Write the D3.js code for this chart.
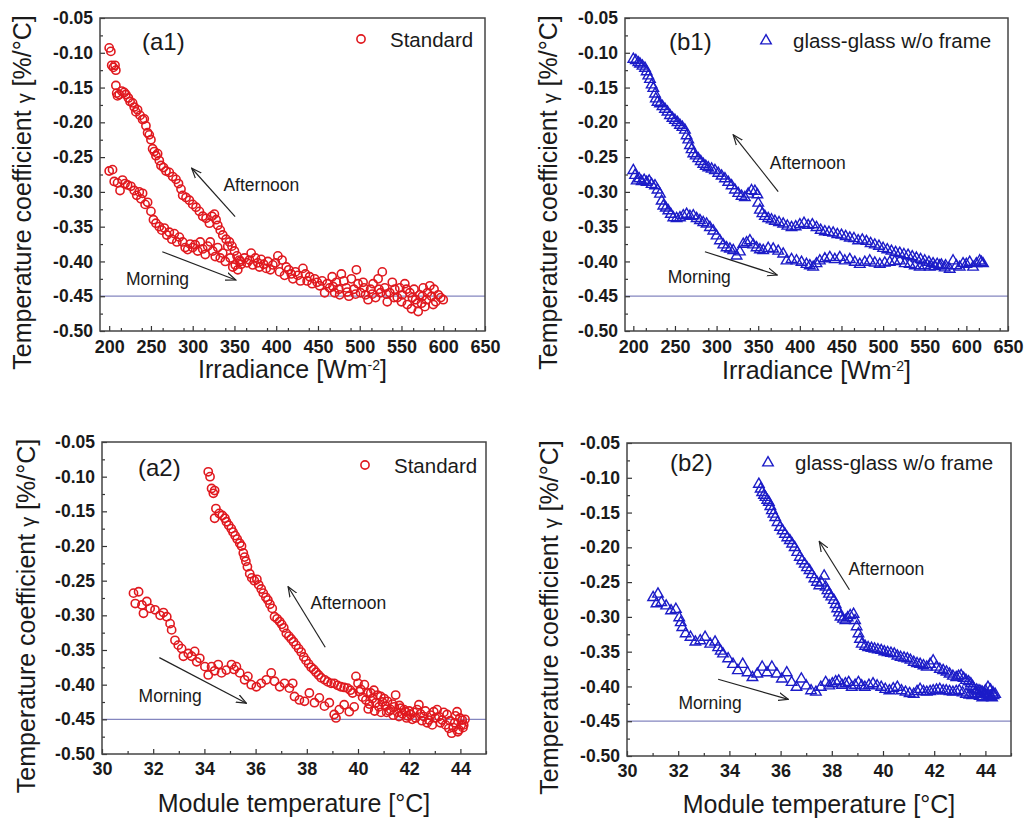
<!DOCTYPE html>
<html>
<head>
<meta charset="utf-8">
<script src="https://cdn.jsdelivr.net/npm/d3@7"></script>
<style>
  body { margin: 0; background: #fff; }
  svg { font-family: "Liberation Sans", Arial, sans-serif; }
</style>
</head>
<body>
<svg id="chart" width="1027" height="819"></svg>
<script>
// tick labels
const gammaTicks = [-0.50, -0.45, -0.40, -0.35, -0.30, -0.25, -0.20, -0.15, -0.10, -0.05];
const irradianceTicks = [200, 250, 300, 350, 400, 450, 500, 550, 600, 650];
const tempTicks = [30, 32, 34, 36, 38, 40, 42, 44];
const refGamma = -0.45;

// (a1) standard module, gamma vs irradiance [irradiance, gamma]
const a1Morning = [[200,-0.270],[204,-0.268],[206,-0.285],[210,-0.287],[213,-0.298],[216,-0.283],[219,-0.288],[222,-0.290],
  [226,-0.292],[230,-0.298],[233,-0.305],[236,-0.300],[238,-0.310],[240,-0.302],[243,-0.318],[246,-0.315],[250,-0.328],
  [253,-0.340],[256,-0.345],[260,-0.350],[263,-0.355],[266,-0.352],[269,-0.362],[272,-0.358],[275,-0.368],[278,-0.360],
  [281,-0.372],[284,-0.365],[288,-0.372],[291,-0.380],[294,-0.383],[297,-0.375],[300,-0.380],[303,-0.376],[306,-0.385],
  [309,-0.372],[312,-0.382],[315,-0.390],[318,-0.378],[321,-0.372],[324,-0.385],[327,-0.393],[330,-0.380],[333,-0.395],
  [336,-0.388],[339,-0.400],[342,-0.378],[345,-0.395],[348,-0.408],[351,-0.405],[354,-0.412],[357,-0.400]];
const a1Afternoon = [[200,-0.093],[202,-0.098],[203,-0.118],[205,-0.121],[207,-0.118],[208,-0.125],[208,-0.147],[209,-0.158],
  [210,-0.162],[212,-0.160],[215,-0.155],[218,-0.157],[220,-0.160],[223,-0.165],[225,-0.170],[228,-0.172],[230,-0.178],
  [232,-0.185],[234,-0.182],[237,-0.190],[240,-0.196],[242,-0.195],[244,-0.205],[246,-0.215],[248,-0.218],[250,-0.225],
  [252,-0.238],[254,-0.242],[256,-0.248],[258,-0.245],[260,-0.255],[262,-0.262],[265,-0.265],[268,-0.270],[272,-0.272],
  [276,-0.278],[280,-0.282],[283,-0.288],[286,-0.296],[288,-0.305],[292,-0.308],[296,-0.312],[300,-0.318],[304,-0.322],
  [308,-0.328],[312,-0.335],[316,-0.338],[320,-0.345],[323,-0.335],[326,-0.332],[328,-0.340],[330,-0.348],[333,-0.355],
  [336,-0.362],[340,-0.368],[344,-0.372],[347,-0.378],[350,-0.385],[353,-0.392],[356,-0.398],[358,-0.404]];
const a1Noon = [[362,-0.395],[365,-0.402],[368,-0.398],[370,-0.388],[372,-0.405],[375,-0.395],[378,-0.402],[380,-0.408],
  [382,-0.397],[385,-0.404],[388,-0.410],[390,-0.400],[393,-0.412],[396,-0.405],[399,-0.402],[402,-0.392],[404,-0.415],
  [407,-0.398],[410,-0.420],[412,-0.408],[415,-0.412],[418,-0.418],[420,-0.425],[423,-0.415],[426,-0.420],[429,-0.428],
  [432,-0.410],[435,-0.418],[437,-0.428],[440,-0.422],[443,-0.432],[446,-0.425],[449,-0.430],[452,-0.435],[455,-0.428],
  [458,-0.445],[461,-0.432],[464,-0.438],[467,-0.422],[470,-0.445],[472,-0.430],[475,-0.440],[478,-0.418],[481,-0.428],
  [484,-0.438],[487,-0.450],[490,-0.425],[493,-0.440],[496,-0.412],[498,-0.432],[501,-0.445],[504,-0.430],[507,-0.448],
  [510,-0.455],[513,-0.440],[516,-0.432],[519,-0.452],[522,-0.425],[525,-0.445],[527,-0.415],[530,-0.438],[533,-0.458],
  [536,-0.445],[539,-0.430],[542,-0.440],[545,-0.452],[548,-0.438],[551,-0.448],[554,-0.432],[557,-0.462],[560,-0.445],
  [562,-0.468],[565,-0.440],[567,-0.455],[570,-0.472],[572,-0.448],[574,-0.460],[576,-0.438],[578,-0.465],[581,-0.445],
  [584,-0.435],[586,-0.450],[589,-0.440],[591,-0.458],[594,-0.448],[597,-0.452],[600,-0.455],
  [468,-0.436],[476,-0.448],[485,-0.444],[495,-0.447],[505,-0.438],[515,-0.447],[523,-0.440],[532,-0.447],[541,-0.452],
  [550,-0.458],[556,-0.440],[563,-0.452],[569,-0.460],[575,-0.450],[580,-0.455],[588,-0.462]];

// (b1) glass-glass w/o frame, gamma vs irradiance
const b1Morning = [[200,-0.268],[202,-0.275],[204,-0.283],[207,-0.280],[210,-0.284],[213,-0.282],[216,-0.285],[219,-0.283],
  [222,-0.288],[226,-0.290],[229,-0.296],[232,-0.302],[234,-0.312],[236,-0.319],[239,-0.322],[242,-0.326],[245,-0.331],
  [248,-0.336],[252,-0.337],[256,-0.336],[260,-0.333],[264,-0.331],[268,-0.334],[272,-0.333],[276,-0.337],[280,-0.340],
  [284,-0.343],[288,-0.345],[292,-0.350],[296,-0.355],[300,-0.362],[304,-0.369],[308,-0.375],[312,-0.379],[316,-0.381],
  [320,-0.383],[324,-0.391],[328,-0.385],[332,-0.374],[336,-0.372],[340,-0.369],[344,-0.375],[348,-0.379],[352,-0.382],
  [356,-0.383],[362,-0.380],[368,-0.381],[374,-0.384],[380,-0.388],[384,-0.398],[390,-0.396],[396,-0.398],[402,-0.400],
  [408,-0.403],[412,-0.405],[416,-0.407],[420,-0.402],[424,-0.398],[430,-0.395],[436,-0.393],[442,-0.396],[448,-0.393],
  [454,-0.398],[460,-0.396],[466,-0.400],[472,-0.403],[478,-0.400],[484,-0.398],[490,-0.401],[496,-0.403],[502,-0.401],
  [508,-0.400],[514,-0.399],[520,-0.398],[526,-0.402],[532,-0.403],[538,-0.405],[544,-0.407],[550,-0.405],[556,-0.407],
  [562,-0.406],[568,-0.405],[574,-0.408],[580,-0.410],[584,-0.398],[588,-0.405],[592,-0.407],[596,-0.402],[600,-0.403],
  [604,-0.400],[608,-0.407],[612,-0.402],[616,-0.398],[618,-0.400],[620,-0.402]];
const b1Afternoon = [[200,-0.108],[203,-0.110],[206,-0.113],[208,-0.115],[211,-0.118],[214,-0.121],[216,-0.126],[218,-0.132],
  [220,-0.137],[222,-0.145],[224,-0.150],[226,-0.158],[227,-0.165],[229,-0.170],[232,-0.172],[235,-0.176],[238,-0.180],
  [241,-0.184],[244,-0.189],[247,-0.193],[250,-0.196],[253,-0.199],[256,-0.203],[259,-0.206],[262,-0.210],[264,-0.218],
  [266,-0.224],[268,-0.232],[270,-0.238],[272,-0.244],[275,-0.247],[278,-0.251],[281,-0.255],[284,-0.259],[287,-0.262],
  [290,-0.264],[294,-0.266],[298,-0.268],[302,-0.272],[306,-0.276],[310,-0.280],[314,-0.285],[318,-0.290],[322,-0.296],
  [326,-0.301],[330,-0.305],[334,-0.307],[338,-0.302],[342,-0.297],[346,-0.298],[349,-0.303],[350,-0.315],[352,-0.325],
  [355,-0.330],[358,-0.334],[362,-0.337],[366,-0.339],[370,-0.341],[375,-0.343],[380,-0.345],[385,-0.348],[390,-0.350],
  [395,-0.349],[400,-0.346],[405,-0.344],[410,-0.347],[415,-0.346],[420,-0.350],[425,-0.354],[430,-0.356],[435,-0.357],
  [440,-0.358],[445,-0.360],[450,-0.361],[455,-0.363],[460,-0.365],[465,-0.366],[470,-0.369],[475,-0.368],[480,-0.370],
  [485,-0.373],[490,-0.375],[495,-0.377],[500,-0.380],[505,-0.382],[510,-0.384],[515,-0.386],[520,-0.387],[525,-0.389],
  [530,-0.390],[535,-0.392],[540,-0.394],[545,-0.396],[550,-0.398],[555,-0.400],[560,-0.402],[565,-0.403],[570,-0.404],
  [575,-0.405]];

// (a2) standard module, gamma vs module temperature [degC, gamma]
const a2Morning = [[31.23,-0.268],[31.43,-0.266],[31.30,-0.283],[31.56,-0.285],[31.62,-0.297],[31.75,-0.280],[31.88,-0.290],
  [32.07,-0.292],[32.27,-0.300],[32.40,-0.296],[32.53,-0.302],[32.66,-0.312],[32.72,-0.321],[32.85,-0.336],[32.98,-0.343],
  [33.11,-0.348],[33.18,-0.359],[33.37,-0.355],[33.50,-0.359],[33.62,-0.352],[33.70,-0.367],[33.82,-0.362],[34.02,-0.374],
  [34.15,-0.386],[34.28,-0.374],[34.40,-0.380],[34.54,-0.371],[34.67,-0.383],[34.86,-0.379],[35.06,-0.371],[35.16,-0.378],
  [35.25,-0.374],[35.38,-0.383],[35.57,-0.393],[35.70,-0.388],[35.83,-0.400],[36.03,-0.403],[36.22,-0.398],[36.42,-0.393],
  [36.61,-0.383],[36.74,-0.395],[36.94,-0.403],[37.13,-0.398],[37.32,-0.405],[37.45,-0.398],[37.52,-0.417],[37.71,-0.422],
  [37.91,-0.424],[38.10,-0.412],[38.30,-0.426],[38.49,-0.419],[38.69,-0.431],[38.88,-0.426],[39.07,-0.443],[39.14,-0.448],
  [39.27,-0.436],[39.46,-0.429],[39.66,-0.439],[39.85,-0.432]];
const a2Afternoon = [[34.15,-0.093],[34.22,-0.100],[34.28,-0.117],[34.35,-0.124],[34.40,-0.120],[34.45,-0.146],[34.40,-0.160],
  [34.58,-0.153],[34.70,-0.156],[34.80,-0.160],[34.86,-0.165],[34.95,-0.170],[35.05,-0.175],[35.12,-0.180],[35.20,-0.185],
  [35.28,-0.190],[35.38,-0.196],[35.45,-0.200],[35.52,-0.210],[35.57,-0.216],[35.62,-0.222],[35.68,-0.230],[35.77,-0.240],
  [35.85,-0.246],[35.95,-0.250],[36.05,-0.248],[36.12,-0.256],[36.22,-0.262],[36.30,-0.268],[36.40,-0.274],[36.48,-0.278],
  [36.56,-0.284],[36.65,-0.290],[36.74,-0.302],[36.84,-0.305],[36.94,-0.309],[37.02,-0.313],[37.10,-0.318],[37.20,-0.326],
  [37.30,-0.330],[37.39,-0.334],[37.48,-0.338],[37.58,-0.343],[37.68,-0.348],[37.78,-0.353],[37.88,-0.360],[37.97,-0.365],
  [38.07,-0.370],[38.17,-0.375],[38.27,-0.378],[38.36,-0.382],[38.46,-0.386],[38.56,-0.390],[38.70,-0.393],[38.82,-0.396],
  [38.95,-0.398],[39.07,-0.398],[39.20,-0.401],[39.33,-0.403],[39.46,-0.404],[39.59,-0.405],[39.70,-0.408],[39.79,-0.412]];
const a2Noon = [[39.92,-0.388],[40.00,-0.398],[40.05,-0.410],[40.11,-0.407],[40.18,-0.418],[40.25,-0.400],[40.31,-0.422],
  [40.38,-0.412],[40.44,-0.428],[40.50,-0.412],[40.56,-0.420],[40.62,-0.408],[40.70,-0.426],[40.76,-0.415],[40.82,-0.432],
  [40.89,-0.417],[40.95,-0.425],[41.02,-0.420],[41.08,-0.431],[41.15,-0.424],[41.22,-0.438],[41.28,-0.436],[41.35,-0.428],
  [41.42,-0.432],[41.47,-0.415],[41.55,-0.440],[41.62,-0.430],[41.67,-0.434],[41.74,-0.442],[41.80,-0.436],[41.86,-0.439],
  [41.93,-0.445],[42.00,-0.438],[42.06,-0.443],[42.12,-0.450],[42.18,-0.440],[42.25,-0.448],[42.31,-0.436],[42.38,-0.429],
  [42.44,-0.442],[42.50,-0.452],[42.57,-0.446],[42.63,-0.438],[42.70,-0.455],[42.77,-0.451],[42.83,-0.444],[42.90,-0.458],
  [42.96,-0.439],[43.02,-0.448],[43.09,-0.436],[43.16,-0.446],[43.22,-0.455],[43.29,-0.451],[43.35,-0.440],[43.42,-0.458],
  [43.48,-0.443],[43.55,-0.463],[43.60,-0.452],[43.66,-0.470],[43.72,-0.462],[43.78,-0.455],[43.81,-0.445],[43.87,-0.439],
  [43.90,-0.468],[43.94,-0.465],[43.98,-0.448],[44.03,-0.458],[44.07,-0.451],[44.10,-0.462],[44.13,-0.458],[44.18,-0.450],
  [40.40,-0.435],[40.65,-0.438],[40.90,-0.440],[41.12,-0.440],[41.38,-0.444],[41.60,-0.446],[41.90,-0.448]];

// (b2) glass-glass w/o frame, gamma vs module temperature
const b2Morning = [[31.02,-0.271],[31.21,-0.266],[31.15,-0.280],[31.34,-0.278],[31.53,-0.283],[31.72,-0.290],[31.91,-0.288],
  [32.04,-0.300],[32.10,-0.307],[32.16,-0.314],[32.29,-0.323],[32.48,-0.328],[32.67,-0.335],[32.86,-0.333],[33.05,-0.328],
  [33.25,-0.338],[33.44,-0.335],[33.56,-0.343],[33.66,-0.348],[33.75,-0.352],[33.95,-0.359],[34.14,-0.367],[34.33,-0.376],
  [34.52,-0.367],[34.71,-0.379],[34.90,-0.386],[35.09,-0.381],[35.28,-0.371],[35.47,-0.379],[35.66,-0.371],[35.85,-0.381],
  [36.05,-0.388],[36.24,-0.379],[36.43,-0.393],[36.62,-0.400],[36.81,-0.388],[37.00,-0.398],[37.19,-0.405],[37.38,-0.407],
  [37.57,-0.400],[37.76,-0.393],[37.90,-0.398],[38.02,-0.395],[38.15,-0.392],[38.27,-0.391],[38.40,-0.397],[38.53,-0.395],
  [38.66,-0.393],[38.78,-0.400],[38.91,-0.397],[39.04,-0.393],[39.17,-0.398],[39.29,-0.400],[39.45,-0.397],[39.61,-0.395],
  [39.77,-0.398],[39.93,-0.400],[40.09,-0.403],[40.25,-0.405],[40.40,-0.402],[40.56,-0.400],[40.72,-0.405],[40.88,-0.407],
  [41.04,-0.409],[41.20,-0.410],[41.33,-0.406],[41.45,-0.403],[41.58,-0.406],[41.71,-0.407],[41.84,-0.406],[41.96,-0.405],
  [42.09,-0.404],[42.22,-0.403],[42.35,-0.405],[42.47,-0.405],[42.60,-0.406],[42.73,-0.407],[42.86,-0.406],[42.98,-0.405],
  [43.11,-0.408],[43.24,-0.410],[43.37,-0.411],[43.49,-0.412],[43.60,-0.409],[43.68,-0.410],[43.78,-0.413],[43.88,-0.415],
  [43.95,-0.410],[44.00,-0.405],[44.10,-0.400],[44.20,-0.404],[44.30,-0.408]];
const b2Afternoon = [[35.15,-0.108],[35.22,-0.115],[35.28,-0.120],[35.35,-0.124],[35.41,-0.127],[35.48,-0.131],[35.54,-0.134],
  [35.60,-0.140],[35.66,-0.146],[35.72,-0.151],[35.79,-0.156],[35.88,-0.163],[35.98,-0.170],[36.08,-0.175],[36.17,-0.180],
  [36.26,-0.185],[36.36,-0.189],[36.45,-0.194],[36.55,-0.199],[36.65,-0.206],[36.75,-0.213],[36.84,-0.218],[36.94,-0.223],
  [37.03,-0.228],[37.13,-0.232],[37.22,-0.238],[37.32,-0.244],[37.42,-0.249],[37.51,-0.254],[37.60,-0.250],[37.70,-0.240],
  [37.76,-0.256],[37.83,-0.261],[37.89,-0.266],[37.98,-0.270],[38.08,-0.275],[38.15,-0.281],[38.21,-0.287],[38.28,-0.293],
  [38.34,-0.299],[38.44,-0.302],[38.53,-0.304],[38.62,-0.300],[38.72,-0.297],[38.85,-0.295],[38.91,-0.304],[38.97,-0.313],
  [39.04,-0.323],[39.10,-0.331],[39.17,-0.338],[39.30,-0.341],[39.42,-0.343],[39.55,-0.344],[39.67,-0.345],[39.80,-0.346],
  [39.93,-0.347],[40.05,-0.349],[40.18,-0.350],[40.31,-0.351],[40.44,-0.352],[40.56,-0.355],[40.69,-0.357],[40.82,-0.358],
  [40.95,-0.359],[41.07,-0.361],[41.20,-0.364],[41.33,-0.366],[41.45,-0.367],[41.58,-0.369],[41.71,-0.371],[41.84,-0.367],
  [41.96,-0.362],[42.09,-0.371],[42.22,-0.374],[42.35,-0.376],[42.48,-0.378],[42.60,-0.381],[42.73,-0.384],[42.86,-0.386],
  [42.95,-0.384],[43.05,-0.383],[43.15,-0.387],[43.24,-0.390],[43.34,-0.392],[43.43,-0.395],[43.50,-0.399],[43.56,-0.403],
  [43.66,-0.404],[43.75,-0.405],[43.82,-0.406],[43.88,-0.407],[43.95,-0.409],[44.00,-0.410],[44.07,-0.411],[44.13,-0.412],
  [44.20,-0.413],[44.26,-0.415],[44.32,-0.412],[44.38,-0.410]];

const RED = "#e0191f";
const BLUE = "#1c1cc8";

const panels = [
  { label: "(a1)", legend: "Standard", marker: "circle", color: RED,
    left: 100, top: 18, right: 485, bottom: 331,
    xDomain: [189, 650], xTicks: irradianceTicks, xMinorStep: 25, xTitle: "irr",
    xTitleY: 378, yTitleX: 31, tickY: 9,
    series: [a1Morning, a1Afternoon, a1Noon],
    labelPos: [142, 50], legendPos: [361, 39],
    afternoon: { text: [336.8, -0.299], from: [350.8, -0.3355], to: [298.8, -0.266] },
    morning: { text: [220, -0.434], from: [263.6, -0.386], to: [351.6, -0.4267] } },
  { label: "(b1)", legend: "glass-glass w/o frame", marker: "triangle", color: BLUE,
    left: 625, top: 18, right: 1008, bottom: 331,
    xDomain: [190, 650], xTicks: irradianceTicks, xMinorStep: 25, xTitle: "irr",
    xTitleY: 379, yTitleX: 557, tickY: 9,
    series: [b1Morning, b1Afternoon],
    labelPos: [669, 50], legendPos: [766, 40],
    afternoon: { text: [364, -0.267], from: [374, -0.2995], to: [320, -0.218] },
    morning: { text: [241.2, -0.4305], from: [286, -0.386], to: [372.8, -0.4195] } },
  { label: "(a2)", legend: "Standard", marker: "circle", color: RED,
    left: 102, top: 442, right: 486, bottom: 754,
    xDomain: [30, 45], xTicks: tempTicks, xMinorStep: 1, xTitle: "temp",
    xTitleY: 812, yTitleX: 35, tickY: 8,
    series: [a2Morning, a2Afternoon, a2Noon],
    labelPos: [138, 476], legendPos: [365, 465],
    afternoon: { text: [38.14, -0.2914], from: [38.72, -0.346], to: [37.27, -0.2587] },
    morning: { text: [31.43, -0.4257], from: [32.24, -0.361], to: [35.64, -0.4267] } },
  { label: "(b2)", legend: "glass-glass w/o frame", marker: "triangle", color: BLUE,
    left: 627, top: 443, right: 1011, bottom: 756,
    xDomain: [30, 45], xTicks: tempTicks, xMinorStep: 1, xTitle: "temp",
    xTitleY: 813, yTitleX: 558, tickY: 8,
    series: [b2Morning, b2Afternoon],
    labelPos: [670, 471], legendPos: [768, 462],
    afternoon: { text: [38.65, -0.24], from: [38.69, -0.261], to: [37.51, -0.1916] },
    morning: { text: [32.01, -0.433], from: [33.56, -0.3897], to: [36.3, -0.4185] } }
];

const svg = d3.select("#chart");
svg.append("rect").attr("width", 1027).attr("height", 819).attr("fill", "#fff");

svg.append("defs").append("marker")
  .attr("id", "arrowhead")
  .attr("viewBox", "0 -5 11 10")
  .attr("refX", 10).attr("refY", 0)
  .attr("markerUnits", "userSpaceOnUse")
  .attr("markerWidth", 11).attr("markerHeight", 10)
  .attr("orient", "auto")
  .append("path")
  .attr("d", "M0,-4L10,0L0,4")
  .attr("fill", "none").attr("stroke", "#222").attr("stroke-width", 1.2);

const triangle = d3.symbol(d3.symbolTriangle, 48);

function drawPanel(p) {
  const x = d3.scaleLinear().domain(p.xDomain).range([p.left, p.right]);
  const y = d3.scaleLinear().domain([-0.50, -0.05]).range([p.bottom, p.top]);
  const g = svg.append("g");

  // -0.45 reference line
  g.append("line")
    .attr("x1", p.left).attr("x2", p.right)
    .attr("y1", y(refGamma)).attr("y2", y(refGamma))
    .attr("stroke", "#8486bf").attr("stroke-width", 1.2);

  const pts = p.series.flat();
  if (p.marker == "circle") {
    g.selectAll(".pt").data(pts).enter().append("circle")
      .attr("cx", d => x(d[0])).attr("cy", d => y(d[1]))
      .attr("r", 4.1)
      .attr("fill", "none").attr("stroke", p.color).attr("stroke-width", 1.6);
  } else {
    g.selectAll(".pt").data(pts).enter().append("path")
      .attr("d", triangle)
      .attr("transform", d => `translate(${x(d[0])},${y(d[1]) + 0.8})`)
      .attr("fill", "none").attr("stroke", p.color).attr("stroke-width", 1.4);
  }

  // axes, ticks inside
  const minorX = d3.range(p.xDomain[0], p.xDomain[1] + 0.001, p.xMinorStep)
    .filter(v => v > p.xDomain[0]);
  const minorY = d3.range(-0.475, -0.05, 0.05);

  const xAx = g.append("g").attr("transform", `translate(0,${p.bottom})`)
    .call(d3.axisBottom(x).tickValues(p.xTicks).tickSize(-5).tickPadding(p.tickY).tickFormat(d => d));
  g.append("g").attr("transform", `translate(0,${p.bottom})`)
    .call(d3.axisBottom(x).tickValues(minorX.filter(v => !p.xTicks.includes(v))).tickSize(-3).tickFormat(""));
  const yAx = g.append("g").attr("transform", `translate(${p.left},0)`)
    .call(d3.axisLeft(y).tickValues(gammaTicks).tickSize(-5).tickPadding(7).tickFormat(d => d.toFixed(2)));
  g.append("g").attr("transform", `translate(${p.left},0)`)
    .call(d3.axisLeft(y).tickValues(minorY).tickSize(-3).tickFormat(""));

  g.selectAll(".domain").remove();
  g.selectAll(".tick line").attr("stroke", "#333").attr("stroke-width", 1.2);
  xAx.selectAll("text").attr("font-size", 18).attr("font-weight", "bold").attr("fill", "#1a1a1a")
    .attr("font-family", "Liberation Sans, Arial, sans-serif");
  yAx.selectAll("text").attr("font-size", 17.5).attr("font-weight", "bold").attr("fill", "#1a1a1a")
    .attr("font-family", "Liberation Sans, Arial, sans-serif");

  g.append("rect")
    .attr("x", p.left).attr("y", p.top)
    .attr("width", p.right - p.left).attr("height", p.bottom - p.top)
    .attr("fill", "none").attr("stroke", "#444").attr("stroke-width", 1.5);

  // axis titles
  const xt = g.append("text")
    .attr("x", (p.left + p.right) / 2).attr("y", p.xTitleY)
    .attr("text-anchor", "middle").attr("font-size", 25).attr("fill", "#1a1a1a");
  if (p.xTitle == "irr") {
    xt.append("tspan").text("Irradiance [Wm");
    xt.append("tspan").attr("dy", -8).attr("font-size", 14).text("-2");
    xt.append("tspan").attr("dy", 8).text("]");
  } else {
    xt.text("Module temperature [°C]");
  }

  const cy = (p.top + p.bottom) / 2 + 18;
  const yt = g.append("text")
    .attr("transform", `translate(${p.yTitleX},${cy}) rotate(-90)`)
    .attr("text-anchor", "middle").attr("font-size", 25).attr("fill", "#1a1a1a");
  yt.append("tspan").text("Temperature coefficient ");
  yt.append("tspan").attr("font-size", 20).text("γ");
  yt.append("tspan").text(" [%/°C]");

  // panel label + legend
  g.append("text").attr("x", p.labelPos[0]).attr("y", p.labelPos[1])
    .attr("font-size", 24).attr("fill", "#1a1a1a").text(p.label);
  const [lx, ly] = p.legendPos;
  if (p.marker == "circle") {
    g.append("circle").attr("cx", lx).attr("cy", ly).attr("r", 4.1)
      .attr("fill", "none").attr("stroke", p.color).attr("stroke-width", 1.6);
  } else {
    g.append("path").attr("d", triangle).attr("transform", `translate(${lx},${ly + 0.8})`)
      .attr("fill", "none").attr("stroke", p.color).attr("stroke-width", 1.4);
  }
  g.append("text").attr("x", lx + (p.marker == "circle" ? 29 : 27)).attr("y", ly + 8)
    .attr("font-size", 20.5).attr("fill", "#1a1a1a").text(p.legend);

  // Afternoon / Morning arrows
  [["Afternoon", p.afternoon], ["Morning", p.morning]].forEach(([name, a]) => {
    g.append("line")
      .attr("x1", x(a.from[0])).attr("y1", y(a.from[1]))
      .attr("x2", x(a.to[0])).attr("y2", y(a.to[1]))
      .attr("stroke", "#222").attr("stroke-width", 1.2)
      .attr("marker-end", "url(#arrowhead)");
    g.append("text").attr("x", x(a.text[0])).attr("y", y(a.text[1]))
      .attr("font-size", 17.5).attr("fill", "#1a1a1a").text(name);
  });
}

panels.forEach(drawPanel);
</script>
</body>
</html>
